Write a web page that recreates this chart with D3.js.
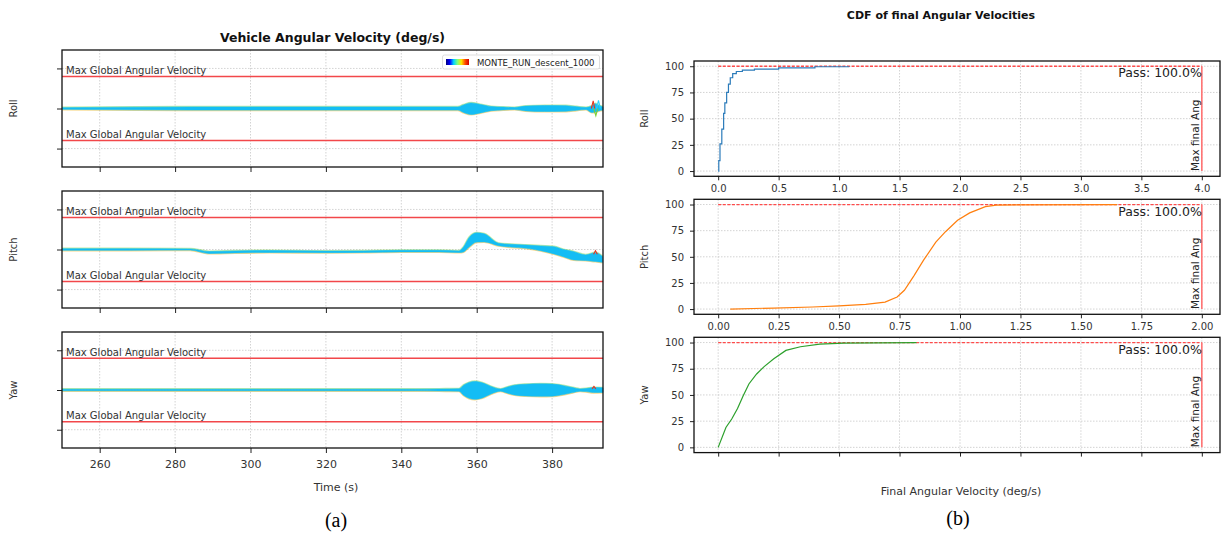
<!DOCTYPE html>
<html>
<head>
<meta charset="utf-8">
<script src="https://cdn.jsdelivr.net/npm/d3@7"></script>
<style>
  body { margin: 0; background: #fff; }
  svg { display: block; }
  text { font-family: "DejaVu Sans", sans-serif; }
  text.caption { font-family: "Liberation Serif", "DejaVu Serif", serif; }
</style>
</head>
<body>
<svg id="chart" width="1222" height="534"></svg>
<script>
// ---------- data (a): Monte Carlo envelopes, deg/s ----------
const timeTicks = [260, 280, 300, 320, 340, 360, 380];
const rateTicks = [-10, 0, 10];
const maxGlobalRate = 8;

const rollTime = [250, 285, 300, 320, 340, 355, 356.5, 358.5, 361, 363.8, 367, 370, 373, 378, 383.7, 386.5, 389, 390.5, 391.5, 392.3, 393.5];
const rollHi   = [0.2, 0.4, 0.4, 0.4, 0.4, 0.4, 0.9, 1.4, 1.0, 0.5, 0.35, 0.25, 0.6, 0.75, 0.7, 0.45, 0.25, 0.6, 1.2, 0.8, 0.4];
const rollLo   = [-0.2, -0.4, -0.4, -0.4, -0.4, -0.4, -1.0, -1.5, -1.1, -0.55, -0.35, -0.25, -0.6, -0.75, -0.7, -0.45, -0.25, -1.0, -0.9, -0.6, -0.4];

const pitchTime = [250, 268, 284, 289, 296, 305, 320, 330, 340, 350, 355.3, 356.5, 358, 360, 362, 365.8, 369, 373.2, 377, 380.5, 383, 385.8, 388.9, 391.5, 393.4];
const pitchHi   = [0.2, 0.2, 0.15, -0.5, -0.35, -0.25, -0.4, -0.35, -0.2, -0.2, -0.35, 0.6, 3.0, 4.15, 3.9, 1.55, 1.3, 1.1, 0.9, 0.7, 0.0, -0.55, -1.35, -0.8, -1.8];
const pitchLo   = [-0.2, -0.2, -0.15, -1.0, -0.85, -0.75, -0.8, -0.75, -0.6, -0.6, -0.75, -0.6, 0.6, 1.85, 1.9, 0.95, 0.6, 0.3, -0.3, -1.1, -1.8, -2.6, -2.75, -3.0, -3.2];

const yawTime = [250, 343.8, 350, 355.3, 356.5, 358, 359.5, 361.5, 363.8, 366.3, 368, 370, 373, 377, 380, 383, 385.5, 387.4, 389, 391, 393.5];
const yawHi   = [0.2, 0.2, 0.25, 0.3, 1.2, 1.9, 2.15, 1.8, 0.9, 0.25, 0.7, 1.2, 1.45, 1.55, 1.5, 1.1, 0.6, 0.25, 0.35, 0.6, 0.55];
const yawLo   = [-0.2, -0.2, -0.25, -0.3, -1.3, -2.1, -2.35, -2.0, -1.0, -0.3, -0.75, -1.25, -1.5, -1.6, -1.55, -1.15, -0.65, -0.3, -0.4, -0.65, -0.6];

// a few outlier runs near touchdown
const rollSpikeTime  = [[390.4, 390.9, 391.3], [391.0, 391.6, 392.1], [391.8, 392.3, 392.8]];
const rollSpikeValue = [[0, 1.9, 0], [0, -1.8, 0], [0, 2.0, 0]];
const pitchSpikeTime  = [[391.0, 391.5, 392.0]];
const pitchSpikeValue = [[-1.2, -0.3, -1.2]];
const yawSpikeTime  = [[390.6, 391.1, 391.6]];
const yawSpikeValue = [[0.3, 0.9, 0.3]];
const spikeColors = ["#e8331e", "#7ccf3a", "#2fd0ff"];

// ---------- data (b): CDF of final angular velocities ----------
const cdfRollX = [0, 0.005, 0.015, 0.03, 0.045, 0.055, 0.07, 0.085, 0.1, 0.12, 0.15, 0.2, 0.3, 0.5, 0.8, 1.08];
const cdfRollY = [0, 10, 26, 40, 55, 65, 75, 83, 89, 93, 95, 96.2, 97.3, 98.5, 99.5, 100];
const cdfPitchX = [0.05, 0.23, 0.39, 0.5, 0.61, 0.69, 0.74, 0.77, 0.81, 0.85, 0.9, 0.94, 0.99, 1.04, 1.105, 1.15, 1.65];
const cdfPitchY = [0, 1, 2, 3, 4.5, 6.7, 11.5, 18, 32, 47, 64, 74, 85, 92, 98, 99.5, 100];
const cdfYawX = [0, 0.032, 0.056, 0.08, 0.103, 0.127, 0.159, 0.19, 0.23, 0.28, 0.34, 0.42, 0.52, 0.82];
const cdfYawY = [0, 19, 27, 37, 49, 60.5, 70, 77, 84.5, 92.5, 96, 98.5, 99.5, 100];
const cdfLimits = [4.0, 2.0, 2.0];
const passPercent = [100.0, 100.0, 100.0];
const cdfRollTicks = [0, 0.5, 1, 1.5, 2, 2.5, 3, 3.5, 4];
const cdfTicks = [0, 0.25, 0.5, 0.75, 1, 1.25, 1.5, 1.75, 2];
const pctTicks = [0, 25, 50, 75, 100];

const svg = d3.select("#chart");
const gridStyle = sel => sel.attr("stroke", "#c8c8c8").attr("stroke-width", 0.8).attr("stroke-dasharray", "1.5,1.5");

// ================= (a) =================
const left = {x0: 62, x1: 603};
const x = d3.scaleLinear().domain([250, 393.5]).range([left.x0, left.x1]);

const leftRows = [
  {name: "Roll", top: 50, bottom: 167, t: rollTime, hi: rollHi, lo: rollLo, st: rollSpikeTime, sv: rollSpikeValue},
  {name: "Pitch", top: 191, bottom: 308, t: pitchTime, hi: pitchHi, lo: pitchLo, st: pitchSpikeTime, sv: pitchSpikeValue},
  {name: "Yaw", top: 332, bottom: 448, t: yawTime, hi: yawHi, lo: yawLo, st: yawSpikeTime, sv: yawSpikeValue}
];

leftRows.forEach((row, k) => {
  const g = svg.append("g");
  const y = d3.scaleLinear().domain([-14.6, 14.6]).range([row.bottom, row.top]);

  g.selectAll(".vg").data(timeTicks).join("line")
    .attr("x1", d => x(d)).attr("x2", d => x(d)).attr("y1", row.top).attr("y2", row.bottom).call(gridStyle);
  g.selectAll(".hg").data(rateTicks).join("line")
    .attr("x1", left.x0).attr("x2", left.x1).attr("y1", d => y(d)).attr("y2", d => y(d)).call(gridStyle);

  // limits
  [maxGlobalRate, -maxGlobalRate].forEach(v => {
    g.append("line").attr("x1", left.x0).attr("x2", left.x1).attr("y1", y(v)).attr("y2", y(v))
      .attr("stroke", "#f2474a").attr("stroke-width", 1.6);
    g.append("text").attr("x", left.x0 + 4).attr("y", y(v) - 2.5)
      .attr("font-size", 10).attr("fill", "#333").text("Max Global Angular Velocity");
  });

  // envelope of runs
  const pts = row.t.map((t, i) => ({t, hi: row.hi[i], lo: row.lo[i]}));
  const curve = d3.curveMonotoneX;
  g.append("path").datum(pts)
    .attr("d", d3.line().x(d => x(d.t)).y(d => y(d.lo)).curve(curve))
    .attr("fill", "none").attr("stroke", "#f0b828").attr("stroke-width", 2.2).attr("opacity", 0.55);
  g.append("path").datum(pts)
    .attr("d", d3.line().x(d => x(d.t)).y(d => y(d.hi)).curve(curve))
    .attr("fill", "none").attr("stroke", "#8edc5c").attr("stroke-width", 2.2).attr("opacity", 0.55);
  g.append("path").datum(pts)
    .attr("d", d3.area().x(d => x(d.t)).y0(d => y(d.lo)).y1(d => y(d.hi)).curve(curve))
    .attr("fill", "#14bdf4").attr("stroke", "#14bdf4").attr("stroke-width", 0.6);

  row.st.forEach((ts, j) => {
    g.append("path").datum(ts.map((t, i) => [t, row.sv[j][i]]))
      .attr("d", d3.line().x(d => x(d[0])).y(d => y(d[1])))
      .attr("fill", "none").attr("stroke", spikeColors[j % spikeColors.length]).attr("stroke-width", 1.1);
  });

  // axes
  const yAxis = d3.axisLeft(y).tickValues(rateTicks).tickSize(5).tickFormat("");
  g.append("g").attr("transform", `translate(${left.x0},0)`).call(yAxis)
    .call(a => a.select(".domain").remove()).selectAll("line").attr("stroke", "#222");
  const xAxis = d3.axisBottom(x).tickValues(timeTicks).tickSize(5).tickPadding(7)
    .tickFormat(k === 2 ? d3.format("d") : "");
  const xa = g.append("g").attr("transform", `translate(0,${row.bottom})`).call(xAxis);
  xa.select(".domain").remove();
  xa.selectAll("line").attr("stroke", "#222");
  xa.selectAll("text").attr("font-size", 11).attr("fill", "#333");

  g.append("rect").attr("x", left.x0).attr("y", row.top).attr("width", left.x1 - left.x0)
    .attr("height", row.bottom - row.top).attr("fill", "none").attr("stroke", "#111").attr("stroke-width", 1.3);

  g.append("text").attr("transform", `translate(17,${(row.top + row.bottom) / 2}) rotate(-90)`)
    .attr("text-anchor", "middle").attr("font-size", 10).attr("fill", "#333").text(row.name);
});

// legend
const defs = svg.append("defs");
const grad = defs.append("linearGradient").attr("id", "jet");
["#00007f", "#0000ff", "#00d4ff", "#7dff7a", "#ffe600", "#ff4800", "#d40000"].forEach((c, i, a) => {
  grad.append("stop").attr("offset", i / (a.length - 1)).attr("stop-color", c);
});
svg.append("rect").attr("x", 442.5).attr("y", 55).attr("width", 157).attr("height", 14).attr("rx", 2)
  .attr("fill", "#fff").attr("fill-opacity", 0.85).attr("stroke", "#d5d5d5").attr("stroke-width", 0.8);
svg.append("rect").attr("x", 446).attr("y", 59).attr("width", 23).attr("height", 6).attr("fill", "url(#jet)");
svg.append("text").attr("x", 477).attr("y", 65.5).attr("font-size", 8.5).attr("fill", "#222").text("MONTE_RUN_descent_1000");

svg.append("text").attr("x", (left.x0 + left.x1) / 2).attr("y", 42).attr("text-anchor", "middle")
  .attr("font-size", 12.5).attr("font-weight", "bold").attr("fill", "#111").text("Vehicle Angular Velocity (deg/s)");
svg.append("text").attr("x", 336).attr("y", 491).attr("text-anchor", "middle")
  .attr("font-size", 11).attr("fill", "#333").text("Time (s)");

// ================= (b) =================
const right = {x0: 694, x1: 1226};
const rightRows = [
  {name: "Roll", top: 61, bottom: 176.3, xs: cdfRollX, ys: cdfRollY, domain: [-0.2, 4.2], ticks: cdfRollTicks, fmt: ".1f", color: "#2b7bba", step: true, labels: true},
  {name: "Pitch", top: 199.3, bottom: 314.3, xs: cdfPitchX, ys: cdfPitchY, domain: [-0.1, 2.1], ticks: cdfTicks, fmt: ".2f", color: "#ff7f0e", step: false, labels: true},
  {name: "Yaw", top: 337.3, bottom: 452.6, xs: cdfYawX, ys: cdfYawY, domain: [-0.1, 2.1], ticks: cdfTicks, fmt: ".2f", color: "#2ca02c", step: false, labels: false}
];

rightRows.forEach((row, k) => {
  const g = svg.append("g");
  const xs = d3.scaleLinear().domain(row.domain).range([right.x0, right.x1]);
  const ys = d3.scaleLinear().domain([-5, 105]).range([row.bottom, row.top]);
  const frameRight = Math.min(right.x1, 1220);

  g.selectAll(".vg").data(row.ticks).join("line")
    .attr("x1", d => xs(d)).attr("x2", d => xs(d)).attr("y1", row.top).attr("y2", row.bottom).call(gridStyle);
  g.selectAll(".hg").data(pctTicks).join("line")
    .attr("x1", right.x0).attr("x2", frameRight).attr("y1", d => ys(d)).attr("y2", d => ys(d)).call(gridStyle);

  const limit = cdfLimits[k];
  g.append("line").attr("x1", xs(0)).attr("x2", xs(limit)).attr("y1", ys(100)).attr("y2", ys(100))
    .attr("stroke", "#ff4b4b").attr("stroke-width", 1.3).attr("stroke-dasharray", "3,1.6");

  g.append("path").datum(row.xs.map((v, i) => [v, row.ys[i]]))
    .attr("d", d3.line().x(d => xs(d[0])).y(d => ys(d[1])).curve(row.step ? d3.curveStepAfter : d3.curveLinear))
    .attr("fill", "none").attr("stroke", row.color).attr("stroke-width", 1.2);

  g.append("line").attr("x1", xs(limit)).attr("x2", xs(limit)).attr("y1", ys(0)).attr("y2", ys(100))
    .attr("stroke", "#ff7373").attr("stroke-width", 1.6);
  g.append("text").attr("transform", `translate(${xs(limit) - 2.5},${ys(0)}) rotate(-90)`)
    .attr("font-size", 10.5).attr("fill", "#222").text("Max final Ang");
  g.append("text").attr("x", xs(limit)).attr("y", ys(100) + 11).attr("text-anchor", "end")
    .attr("font-size", 12.5).attr("fill", "#222").text(`Pass: ${passPercent[k].toFixed(1)}%`);

  const yAxis = d3.axisLeft(ys).tickValues(pctTicks).tickSize(4).tickPadding(6);
  const ya = g.append("g").attr("transform", `translate(${right.x0},0)`).call(yAxis);
  ya.select(".domain").remove();
  ya.selectAll("line").attr("stroke", "#222");
  ya.selectAll("text").attr("font-size", 10).attr("fill", "#333");

  const xAxis = d3.axisBottom(xs).tickValues(row.ticks).tickSize(4).tickPadding(5)
    .tickFormat(row.labels ? d3.format(row.fmt) : "");
  const xa = g.append("g").attr("transform", `translate(0,${row.bottom})`).call(xAxis);
  xa.select(".domain").remove();
  xa.selectAll("line").attr("stroke", "#222");
  xa.selectAll("text").attr("font-size", 10).attr("fill", "#333");

  g.append("rect").attr("x", right.x0).attr("y", row.top).attr("width", frameRight - right.x0)
    .attr("height", row.bottom - row.top).attr("fill", "none").attr("stroke", "#111").attr("stroke-width", 1.3);

  g.append("text").attr("transform", `translate(648,${(row.top + row.bottom) / 2}) rotate(-90)`)
    .attr("text-anchor", "middle").attr("font-size", 10).attr("fill", "#333").text(row.name);
});

svg.append("text").attr("x", 941).attr("y", 19).attr("text-anchor", "middle")
  .attr("font-size", 11).attr("font-weight", "bold").attr("fill", "#111").text("CDF of final Angular Velocities");
svg.append("text").attr("x", 961).attr("y", 495).attr("text-anchor", "middle")
  .attr("font-size", 11).attr("fill", "#333").text("Final Angular Velocity (deg/s)");

// captions
svg.append("text").attr("class", "caption").attr("x", 336).attr("y", 527).attr("text-anchor", "middle")
  .attr("font-size", 20).attr("fill", "#000").text("(a)");
svg.append("text").attr("class", "caption").attr("x", 958).attr("y", 525).attr("text-anchor", "middle")
  .attr("font-size", 20).attr("fill", "#000").text("(b)");
</script>
</body>
</html>
